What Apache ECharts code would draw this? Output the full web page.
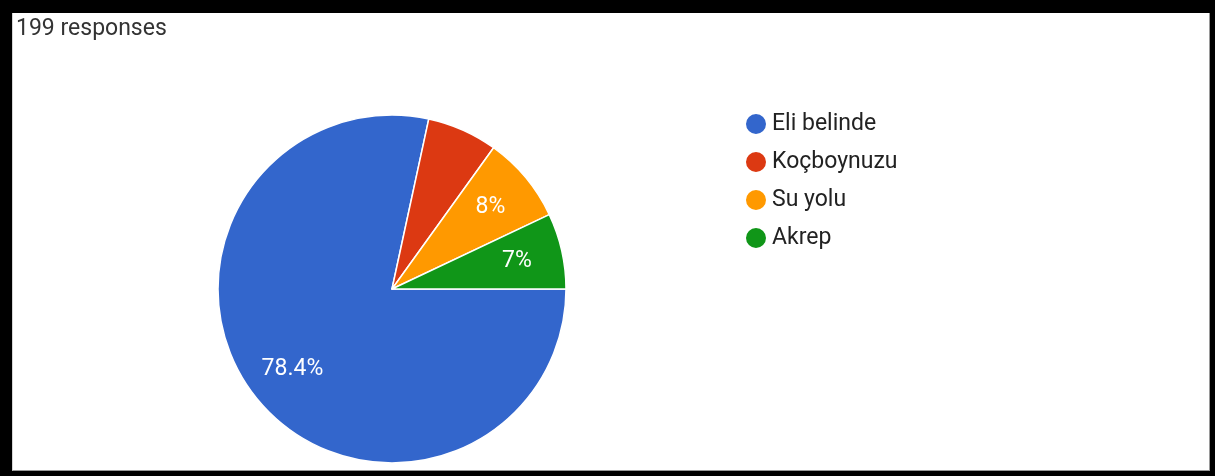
<!DOCTYPE html>
<html>
<head>
<meta charset="utf-8">
<script src="https://cdn.jsdelivr.net/npm/echarts@6/dist/echarts.min.js"></script>
<style>
  html, body { margin: 0; padding: 0; background: #000; }
  #frame { position: absolute; left: 0; top: 0; width: 1215px; height: 476px; background: #000; }
  #chart {
    position: absolute; left: 12px; top: 13px; width: 1198px; height: 458px;
    background: #fff; box-sizing: border-box;
    border-left: 1px solid #d6d6d6; border-right: 1px solid #9a9a9a; border-bottom: 1px solid #9a9a9a;
  }
</style>
</head>
<body>
<div id="frame"><div id="chart"></div></div>
<script>
// Survey answers: one count per option
const categories = ['Eli belinde', 'Koçboynuzu', 'Su yolu', 'Akrep'];
const responses = [156, 13, 16, 14];
const sliceColors = ['#3366cc', '#dc3912', '#ff9900', '#109618'];
// slices too narrow to hold their percentage text
const hiddenLabels = ['Koçboynuzu'];

const total = responses.reduce((a, b) => a + b, 0);
const fontFamily = 'Roboto, Arial, sans-serif';

function pctText(v) {
  const p = Math.round(v / total * 1000) / 10;
  return (p % 1 === 0 ? p.toFixed(0) : p.toFixed(1)) + '%';
}

const center = [379, 276];
const radius = 174;

const sliceData = categories.map((name, i) => ({
  name: name,
  value: responses[i],
  itemStyle: { color: sliceColors[i] }
}));

const labelData = categories.map((name, i) => ({
  name: name,
  value: responses[i],
  label: { show: hiddenLabels.indexOf(name) < 0 }
}));

const chart = echarts.init(document.getElementById('chart'), null, { renderer: 'canvas' });
chart.setOption({
  animation: false,
  title: {
    text: total + ' responses',
    left: -2, top: 0,
    textStyle: { fontFamily: fontFamily, fontSize: 23, fontWeight: 'normal', color: '#333' }
  },
  legend: {
    orient: 'vertical',
    left: 731, top: 99,
    padding: 0,
    icon: 'circle',
    itemWidth: 22, itemHeight: 22, itemGap: 14,
    data: categories.map((name, i) => ({ name: name, itemStyle: { color: sliceColors[i] } })),
    textStyle: { fontFamily: fontFamily, fontSize: 23, color: '#222' }
  },
  series: [
    {
      type: 'pie',
      center: center,
      radius: [0, radius],
      startAngle: 0,
      clockwise: true,
      silent: true,
      label: { show: false },
      labelLine: { show: false },
      itemStyle: { borderColor: '#fff', borderWidth: 1.5 },
      emphasis: { disabled: true },
      data: sliceData
    },
    {
      // transparent ring that carries the percentage labels further out
      type: 'pie',
      center: center,
      radius: [76, radius],
      startAngle: 0,
      clockwise: true,
      silent: true,
      itemStyle: { color: 'rgba(0,0,0,0)', borderWidth: 0 },
      label: {
        show: true,
        position: 'inside',
        formatter: p => pctText(p.value),
        fontFamily: fontFamily,
        fontSize: 23,
        color: '#fff'
      },
      labelLine: { show: false },
      emphasis: { disabled: true },
      data: labelData
    }
  ]
});
</script>
</body>
</html>
